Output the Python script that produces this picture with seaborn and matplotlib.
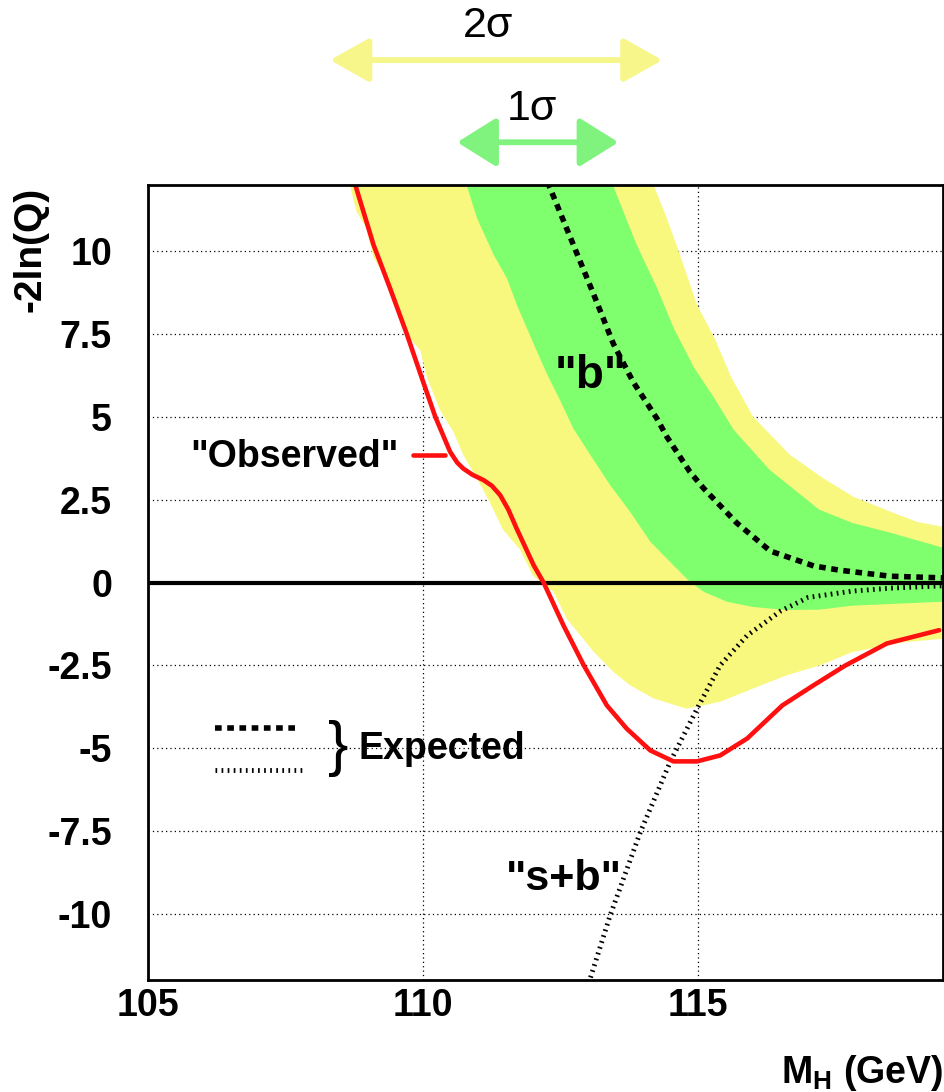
import numpy as np
import matplotlib
matplotlib.use("Agg")
import matplotlib.pyplot as plt
import seaborn as sns
from matplotlib.ticker import FixedLocator, MultipleLocator

# ---------------- data ----------------
obs_x = [108.75, 109.10, 109.40, 109.70, 109.98, 110.22, 110.49, 110.62, 110.73, 110.90,
         111.10, 111.25, 111.40, 111.55, 111.70, 112.01, 112.19, 112.55, 112.92, 113.34,
         113.70, 114.13, 114.55, 114.98, 115.40, 115.89, 116.53, 117.10, 117.67, 118.43, 119.38]
obs_y = [12.1, 10.19, 8.88, 7.52, 6.16, 5.01, 3.95, 3.62, 3.44, 3.25,
         3.09, 2.92, 2.64, 2.20, 1.63, 0.52, 0.00, -1.29, -2.50, -3.71,
         -4.41, -5.07, -5.40, -5.40, -5.22, -4.71, -3.71, -3.10, -2.51, -1.84, -1.44]

b_x = [112.26, 112.73, 113.10, 113.46, 113.82, 114.25, 114.43, 114.85, 115.10, 115.70,
       116.31, 117.10, 117.58, 118.49, 119.45]
b_y = [12.1, 10.2, 8.7, 7.2, 6.05, 4.95, 4.4, 3.34, 2.84, 1.8,
       0.95, 0.50, 0.37, 0.19, 0.14]

sb_x = [113.01, 113.40, 113.95, 114.49, 114.98, 115.40, 115.89, 116.50, 117.00, 117.80, 118.50, 119.45]
sb_y = [-12.1, -10.05, -7.53, -5.42, -3.81, -2.50, -1.60, -0.86, -0.45, -0.26, -0.17, -0.10]

# 2 sigma band edges
y2_lo_x = [108.67, 108.79, 108.97, 109.10, 109.34, 109.52, 109.70, 109.95, 110.07, 110.31,
           110.55, 110.73, 110.98, 111.22, 111.45, 111.76, 112.00, 112.37, 112.61, 113.10,
           113.46, 113.76, 114.19, 114.79, 115.40, 116.00, 116.61, 117.22, 117.80, 118.75, 119.45]
y2_lo_y = [12.0, 11.2, 10.7, 9.8, 9.2, 8.2, 7.5, 7.0, 6.2, 5.2,
           4.55, 3.85, 3.14, 2.4, 1.6, 1.0, 0.2, -0.28, -1.09, -2.09,
           -2.70, -3.10, -3.50, -3.81, -3.60, -3.20, -2.80, -2.50, -2.10, -1.80, -1.70]
y2_hi_x = [114.19, 114.43, 114.67, 114.98, 115.30, 115.60, 116.00, 116.67, 117.28, 117.82,
           118.49, 118.98, 119.45]
y2_hi_y = [12.0, 11.0, 9.89, 8.38, 7.37, 6.20, 5.0, 3.85, 3.14, 2.59,
           2.14, 1.83, 1.68]

# 1 sigma band edges
g1_lo_x = [110.79, 110.98, 111.28, 111.52, 111.70, 112.01, 112.25, 112.49, 112.73, 113.04,
           113.40, 113.76, 114.13, 114.55, 114.85, 115.10, 115.52, 116.00, 116.60, 117.20,
           117.80, 119.45]
g1_lo_y = [12.0, 11.0, 9.9, 9.2, 8.4, 7.2, 6.3, 5.5, 4.65, 3.85,
           2.94, 2.14, 1.23, 0.52, 0.02, -0.28, -0.58, -0.74, -0.83, -0.82,
           -0.70, -0.58]
g1_hi_x = [113.45, 113.64, 113.88, 114.25, 114.55, 114.92, 115.28, 115.65, 116.30, 117.20,
           117.80, 118.50, 119.45]
g1_hi_y = [12.0, 11.2, 10.2, 8.9, 7.7, 6.5, 5.6, 4.6, 3.4, 2.2,
           1.8, 1.5, 1.05]

x_ticks = [105, 110, 115]
x_tick_labels = ["105", "110", "115"]
y_ticks = [-10, -7.5, -5, -2.5, 0, 2.5, 5, 7.5, 10]
y_tick_labels = ["-10", "-7.5", "-5", "-2.5", "0", "2.5", "5", "7.5", "10"]

# ---------------- style ----------------
sns.set_theme(style="white")
plt.rcParams["font.family"] = ["Liberation Sans", "DejaVu Sans"]
plt.rcParams["mathtext.fontset"] = "custom"
plt.rcParams["mathtext.rm"] = "Liberation Sans"
plt.rcParams["mathtext.bf"] = "Liberation Sans:bold"
for k in ["text.color", "axes.labelcolor", "xtick.color", "ytick.color"]:
    plt.rcParams[k] = "black"

YELLOW = "#f8f87f"
GREEN = "#80ff6e"
RED = "#ff1010"

W, H = 945, 1092
fig = plt.figure(figsize=(W / 100, H / 100), dpi=100)
L, R, T, B = 148, 943, 185, 980
ax = fig.add_axes([L / W, 1 - B / H, (R - L) / W, (B - T) / H])

# bands
ax.fill(list(y2_lo_x) + list(y2_hi_x[::-1]), list(y2_lo_y) + list(y2_hi_y[::-1]),
        color=YELLOW, lw=0, zorder=1)
ax.fill(list(g1_lo_x) + list(g1_hi_x[::-1]), list(g1_lo_y) + list(g1_hi_y[::-1]),
        color=GREEN, lw=0, zorder=1.5)

# zero line
ax.axhline(0, color="black", lw=3.0, zorder=2)

# expected lines
sns.lineplot(x=b_x, y=b_y, ax=ax, color="black", lw=4.0, estimator=None, sort=False, zorder=3)
ax.lines[-1].set_dashes([1.2, 1.0])
ax.lines[-1].set_dash_capstyle("butt")
sns.lineplot(x=sb_x, y=sb_y, ax=ax, color="black", lw=3.5, estimator=None, sort=False, zorder=3)
ax.lines[-1].set_dashes([0.35, 0.9])
ax.lines[-1].set_dash_capstyle("butt")
# observed
sns.lineplot(x=obs_x, y=obs_y, ax=ax, color=RED, lw=3.3, estimator=None, sort=False, zorder=4)
ax.lines[-1].set_solid_joinstyle("round")

ax.set_xlim(105, 119.45)
ax.set_ylim(-12, 12)

ax.xaxis.set_major_locator(FixedLocator(x_ticks))
ax.set_xticklabels(x_tick_labels)
ax.xaxis.set_minor_locator(MultipleLocator(1))
ax.yaxis.set_major_locator(FixedLocator(y_ticks))
ax.set_yticklabels(y_tick_labels)
ax.yaxis.set_minor_locator(MultipleLocator(0.5))

ax.grid(True, which="major", color="black", linestyle=(0, (1, 2.5)), lw=0.9, zorder=0)
ax.set_axisbelow(True)

for s in ax.spines.values():
    s.set_color("black")
    s.set_linewidth(2.0)
    s.set_zorder(5)

ax.tick_params(axis="both", which="both", direction="in", top=False, right=False,
               color="black", width=1.0)
ax.tick_params(axis="both", which="major", length=9)
ax.tick_params(axis="both", which="minor", length=6)
ax.tick_params(axis="y", which="major", pad=26, labelsize=27)
ax.tick_params(axis="x", which="major", pad=6, labelsize=27)
for lab in ax.get_xticklabels() + ax.get_yticklabels():
    lab.set_fontweight("bold")
    lab.set_color("black")

# axis titles
fig.text(31 / W, 1 - 187 / H, "-2ln(Q)", rotation=90, ha="center", va="top",
         fontsize=28, fontweight="bold", color="black")
fig.text(943 / W, 1 - 1083 / H, r"$\mathbf{M}_{\mathbf{H}}$ (GeV)", ha="right", va="baseline",
         fontsize=27, fontweight="bold", color="black")

# text labels in the plot
ax.text(107.67, 3.8, '"Observed"', ha="center", va="center", fontsize=27, fontweight="bold")
ax.plot([109.82, 110.40], [3.84, 3.84], color=RED, lw=3.3, zorder=4)
ax.text(113.04, 6.22, '"b"', ha="center", va="center", fontsize=33, fontweight="bold", zorder=6)
ax.text(112.55, -8.94, '"s+b"', ha="center", va="center", fontsize=31, fontweight="bold", zorder=6)

# Expected legend
l1, = ax.plot([106.22, 107.76], [-4.38, -4.38], color="black", lw=4.0, zorder=4)
l1.set_dashes([1.2, 1.0]); l1.set_dash_capstyle("butt")
l2, = ax.plot([106.22, 107.82], [-5.65, -5.65], color="black", lw=3.5, zorder=4)
l2.set_dashes([0.35, 0.9]); l2.set_dash_capstyle("butt")
ax.text(108.45, -5.02, "}", ha="center", va="center", fontsize=44, fontweight="normal")
ax.text(108.82, -5.02, "Expected", ha="left", va="center", fontsize=27, fontweight="bold")

# sigma arrows above the frame
ax.annotate("", xy=(108.31, 15.77), xytext=(114.35, 15.77), xycoords="data",
            arrowprops=dict(arrowstyle="<|-|>,head_length=0.8,head_width=0.45",
                            mutation_scale=30, lw=4.2, color="#f6f68a",
                            shrinkA=0, shrinkB=0),
            annotation_clip=False)
ax.annotate("", xy=(110.62, 13.29), xytext=(113.55, 13.29), xycoords="data",
            arrowprops=dict(arrowstyle="<|-|>,head_length=0.8,head_width=0.5",
                            mutation_scale=30, lw=4.2, color="#80f37e",
                            shrinkA=0, shrinkB=0),
            annotation_clip=False)
ax.text(111.18, 16.8, "2σ", ha="center", va="center", fontsize=31, clip_on=False)
ax.text(111.98, 14.3, "1σ", ha="center", va="center", fontsize=31, clip_on=False)

fig.savefig("out.png", dpi=100)
